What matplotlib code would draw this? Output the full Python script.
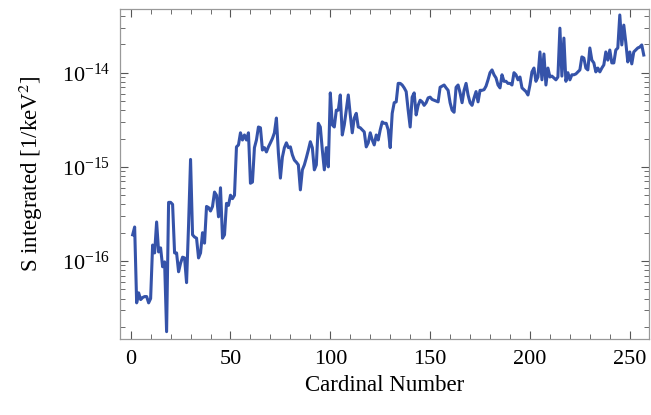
import matplotlib
matplotlib.use("Agg")
import matplotlib.pyplot as plt
import numpy as np
from matplotlib.ticker import LogLocator, MultipleLocator, NullFormatter, FixedLocator

plt.rcParams['font.family'] = ['Liberation Serif', 'DejaVu Serif']
plt.rcParams['mathtext.fontset'] = 'stix'

# Datos (eje x: numero cardinal 1..257)
cardinal = np.arange(1, 258)

s_integrado = [
    1.9e-16, 2.3e-16, 3.6e-17, 4.6e-17, 3.9e-17, 4.1e-17, 4.2e-17, 4.2e-17, 3.6e-17, 4.0e-17,
    1.48e-16, 1.22e-16, 2.6e-16, 1.25e-16, 1.38e-16, 8.7e-17, 9.8e-17, 1.78e-17, 4.2e-16, 4.2e-16,
    4.0e-16, 1.22e-16, 1.22e-16, 7.7e-17, 9.5e-17, 1.1e-16, 1.08e-16, 5.9e-17, 2.4e-16, 1.2e-15,
    1.9e-16, 1.8e-16, 1.75e-16, 1.08e-16, 1.22e-16, 2.0e-16, 1.55e-16, 3.8e-16, 3.7e-16, 3.4e-16,
    3.8e-16, 5.4e-16, 5.0e-16, 2.95e-16, 6.0e-16, 1.75e-16, 1.9e-16, 4.1e-16, 3.9e-16, 5.0e-16,
    4.6e-16, 5.0e-16, 1.63e-15, 1.71e-15, 2.3e-15, 1.93e-15, 2.18e-15, 1.93e-15, 2.3e-15, 6.7e-16,
    6.9e-16, 1.6e-15, 1.93e-15, 2.65e-15, 2.6e-15, 1.51e-15, 1.6e-15, 1.44e-15, 1.63e-15, 1.8e-15,
    2.0e-15, 2.3e-15, 3.3e-15, 1.4e-15, 7.6e-16, 1.27e-15, 1.6e-15, 1.8e-15, 1.6e-15, 1.63e-15,
    1.34e-15, 1.18e-15, 1.12e-15, 1.05e-15, 5.7e-16, 9.3e-16, 1.05e-15, 1.25e-15, 1.51e-15, 1.85e-15,
    1.6e-15, 9.3e-16, 1.05e-15, 2.9e-15, 2.65e-15, 1.51e-15, 9.3e-16, 1.6e-15, 1.0e-15, 6.1e-15,
    2.79e-15, 2.65e-15, 4.0e-15, 4.0e-15, 5.8e-15, 2.18e-15, 2.79e-15, 4.0e-15, 5.8e-15, 3.56e-15,
    2.3e-15, 3.3e-15, 3.7e-15, 2.65e-15, 2.6e-15, 2.47e-15, 2.35e-15, 1.63e-15, 1.8e-15, 2.3e-15,
    1.93e-15, 1.71e-15, 2.18e-15, 1.93e-15, 2.47e-15, 3.0e-15, 2.9e-15, 2.9e-15, 2.47e-15, 1.6e-15,
    3.7e-15, 4.8e-15, 4.9e-15, 7.7e-15, 7.7e-15, 7.4e-15, 6.9e-15, 6.3e-15, 4.0e-15, 2.65e-15,
    5.5e-15, 6.1e-15, 3.56e-15, 4.5e-15, 5.1e-15, 4.9e-15, 4.5e-15, 4.8e-15, 5.4e-15, 5.5e-15,
    5.2e-15, 5.1e-15, 5.0e-15, 4.9e-15, 7.0e-15, 7.2e-15, 7.4e-15, 6.9e-15, 6.5e-15, 4.8e-15,
    4.0e-15, 3.8e-15, 7.0e-15, 7.4e-15, 6.1e-15, 4.8e-15, 6.5e-15, 7.7e-15, 5.8e-15, 4.8e-15,
    4.5e-15, 5.4e-15, 6.3e-15, 4.9e-15, 6.5e-15, 6.5e-15, 6.6e-15, 7.2e-15, 8.4e-15, 1.0e-14,
    1.07e-14, 9.5e-15, 8.8e-15, 7.4e-15, 6.9e-15, 9.5e-15, 8.1e-15, 8.1e-15, 7.7e-15, 7.7e-15,
    7.4e-15, 1.0e-14, 9.5e-15, 8.4e-15, 9.0e-15, 6.9e-15, 6.6e-15, 6.3e-15, 5.8e-15, 7.4e-15,
    1.02e-14, 1.12e-14, 8.1e-15, 9.0e-15, 1.66e-14, 8.4e-15, 1.58e-14, 7.4e-15, 1.12e-14, 9.0e-15,
    9.2e-15, 8.8e-15, 8.4e-15, 9.0e-15, 2.97e-14, 9.2e-15, 2.33e-14, 8.1e-15, 1.0e-14, 8.4e-15,
    9.5e-15, 9.5e-15, 9.7e-15, 1.02e-14, 1.07e-14, 1.47e-14, 1.43e-14, 1.12e-14, 1.07e-14, 1.83e-14,
    1.36e-14, 1.27e-14, 1.02e-14, 1.12e-14, 1.02e-14, 1.12e-14, 1.21e-14, 1.66e-14, 1.36e-14, 1.74e-14,
    1.27e-14, 1.27e-14, 1.74e-14, 1.83e-14, 4.1e-14, 1.97e-14, 3.2e-14, 2.1e-14, 1.3e-14, 1.66e-14,
    1.24e-14, 1.66e-14, 1.74e-14, 1.83e-14, 1.87e-14, 1.97e-14, 1.54e-14,
]

ticks_y = [1e-16, 1e-15, 1e-14]

fig = plt.figure(figsize=(6.51, 4.15), dpi=100)
ax = fig.add_axes([0.1843, 0.183, 0.8127, 0.7946])

ax.plot(cardinal, s_integrado, color='#3553a9', linewidth=2.2)

ax.set_yscale('log')
ax.set_xlim(-5.35, 259.65)
ax.set_ylim(10**-16.828, 10**-13.327)

# Ticks estilo Mathematica
ax.xaxis.set_major_locator(MultipleLocator(50))
ax.xaxis.set_minor_locator(MultipleLocator(10))
ax.yaxis.set_major_locator(FixedLocator(ticks_y))
ax.yaxis.set_minor_locator(LogLocator(base=10, subs=np.arange(2, 10), numticks=20))
ax.yaxis.set_minor_formatter(NullFormatter())
ax.tick_params(which='both', direction='in', top=True, right=True, color='#555555',
               labelsize=16)
ax.tick_params(axis='x', pad=8)
ax.tick_params(axis='y', pad=7)
ax.tick_params(which='major', length=6, width=0.8)
ax.tick_params(which='minor', length=3.5, width=0.6)

for s in ax.spines.values():
    s.set_color('#999999')
    s.set_linewidth(0.9)

ax.set_xlabel('Cardinal Number', fontsize=16.5, labelpad=4)
ax.set_ylabel('S integrated [1/keV$^2$]', fontsize=16.5, labelpad=12)

fig.savefig('out.png', dpi=100)
